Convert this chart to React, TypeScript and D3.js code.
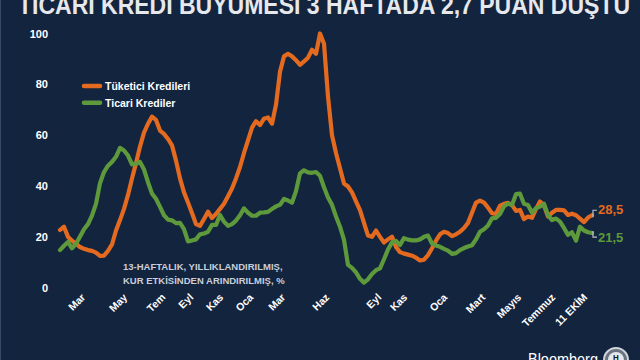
import React from "react";
import * as d3 from "d3";

const consumer = [
  22.7, 24, 20, 18.5, 17.3, 16, 15.3, 14.8, 14.5, 13.8, 12.5, 12.6, 14.5, 17, 22.5, 26.6, 31, 36.5, 43, 49,
  55.5, 61, 64.5, 67.3, 66, 61.8, 60.5, 58.5, 56, 50, 43, 37.5, 33.5, 29.4, 25, 24.3, 27, 29.9, 27.4, 29,
  31, 33, 36, 39, 43, 47.5, 53, 58, 63, 65.5, 64, 66.5, 67, 64.5, 72, 85, 91, 92, 91, 89.5,
  87.7, 89, 90.5, 93.6, 92, 100, 96, 75.2, 60, 53, 47, 41, 39.8, 37.5, 34, 30.5, 25.5, 20.5, 20, 22.5,
  20, 17.8, 19, 20.1, 16, 14, 13.4, 13, 12.6, 11.8, 10.7, 11, 12.8, 15.5, 18.5, 21, 22, 21.5, 20.3, 21,
  22, 23.5, 25.5, 29.5, 33.5, 34.3, 33.5, 31.5, 29.3, 29, 32.3, 33, 33.4, 32.5, 30.2, 30.6, 27, 28, 27.5, 31,
  33.9, 32.3, 28, 29.5, 30.6, 30.6, 30.4, 28.6, 29.1, 28.5, 27.2, 25.8, 27.6, 28.5,
];

const commercial = [
  14.8, 16.5, 18, 15.5, 17.3, 20.1, 23, 25, 28.4, 33, 41.1, 45.5, 48, 49.5, 51.5, 55, 54, 52, 48.5, 48.8,
  49.5, 46.5, 41.5, 37, 35, 31.8, 28.5, 26.8, 26.5, 25.4, 25.5, 23, 18.2, 18.6, 19, 21, 21.3, 22, 24.7, 24.7,
  28.6, 26, 24.3, 25, 26.4, 28.5, 31.2, 29.5, 28.3, 28.3, 29.5, 29.6, 29.8, 31, 32, 32.6, 34.9, 34.3, 33.4, 38,
  45, 46.2, 45.4, 45.2, 45.5, 44, 39.5, 35.5, 32.6, 28, 24, 18.8, 9, 7.8, 6, 3.5, 2, 3.3, 5.4, 6.9,
  7.6, 11.2, 15, 17.9, 18.4, 16.8, 19.5, 18.9, 18.6, 18.6, 19, 20, 20.5, 17.4, 16.6, 16.1, 15.3, 14.6, 13.3, 13.6,
  14.8, 15.6, 16.2, 16.7, 19, 22, 23, 24.5, 27.3, 27.5, 29, 32, 33.1, 32.5, 36.8, 37, 33, 32.5, 29.5, 31.3,
  31.9, 33, 28.5, 26.6, 27.2, 26, 23.5, 20.8, 21.8, 18.5, 24, 22.5, 21.8, 21.5,
];

const yTicks = [0, 20, 40, 60, 80, 100];
const xTickLabels = ["Mar", "May", "Tem", "Eyl", "Kas", "Oca", "Mar", "Haz", "Eyl", "Kas", "Oca", "Mart", "Mayıs", "Temmuz", "11 EKİM"];
const xTickIndex = [6.5, 17, 26.5, 33.5, 41, 48.5, 56.5, 67.5, 80.5, 87, 97, 106.5, 115.5, 124, 132];

const seriesNames = ["Tüketici Kredileri", "Ticari Krediler"];
const lastLabels = ["28,5", "21,5"];

const title = "TİCARİ KREDİ BÜYÜMESİ 3 HAFTADA 2,7 PUAN DÜŞTÜ";
const note = ["13-HAFTALIK, YILLIKLANDIRILMIŞ,", "KUR ETKİSİNDEN ARINDIRILMIŞ, %"];

const W = 640;
const H = 360;
const BG = "#13243f";
const ORANGE = "#e36a1f";
const GREEN = "#5e9a3b";

export default function App() {
  const n = consumer.length;
  const x = d3.scaleLinear().domain([0, n - 1]).range([60, 592]);
  const y = d3.scaleLinear().domain([0, 100]).range([287.7, 33.5]);
  const line = d3
    .line<number>()
    .x((_, i) => x(i))
    .y((d) => y(d))
    .curve(d3.curveLinear);

  const series = [
    { data: consumer, color: ORANGE },
    { data: commercial, color: GREEN },
  ];

  const font = "'Liberation Sans', Arial, sans-serif";
  const lastC = consumer[consumer.length - 1];
  const lastG = commercial[commercial.length - 1];

  return (
    <svg
      width={W}
      height={H}
      viewBox={`0 0 ${W} ${H}`}
      style={{ position: "absolute", left: 0, top: 0, display: "block" }}
      fontFamily={font}
    >
      <rect x={0} y={0} width={W} height={H} fill={BG} />
      <line x1={0.5} y1={0} x2={0.5} y2={H} stroke="#3a4a66" strokeWidth={1} />

      <text
        x={18}
        y={14}
        fontSize={25}
        fontWeight={900}
        fill="#e6e8ec"
        textLength={612}
        lengthAdjust="spacingAndGlyphs"
      >
        {title}
      </text>

      {yTicks.map((t) => (
        <text key={t} x={48} y={y(t) + 4} textAnchor="end" fontSize={11} fontWeight="bold" fill="#ffffff">
          {t}
        </text>
      ))}

      {xTickLabels.map((lab, i) => {
        const px = x(xTickIndex[i]);
        const py = 298;
        return (
          <text
            key={i}
            x={px}
            y={py}
            textAnchor="end"
            fontSize={10.5}
            fontWeight="bold"
            fill="#ffffff"
            transform={`rotate(-45, ${px}, ${py})`}
          >
            {lab}
          </text>
        );
      })}

      {series.map((s, i) => (
        <path
          key={i}
          d={line(s.data) || ""}
          fill="none"
          stroke={s.color}
          strokeWidth={4.2}
          strokeLinejoin="round"
          strokeLinecap="round"
        />
      ))}

      {seriesNames.map((nm, i) => (
        <g key={nm}>
          <line
            x1={84}
            x2={100}
            y1={86 + i * 16.7}
            y2={86 + i * 16.7}
            stroke={i === 0 ? ORANGE : GREEN}
            strokeWidth={4.5}
            strokeLinecap="round"
          />
          <text x={105} y={86 + i * 16.7 + 4} fontSize={10.5} fontWeight="bold" fill="#ffffff">
            {nm}
          </text>
        </g>
      ))}

      {note.map((t, i) => (
        <text key={i} x={123} y={270 + i * 14} fontSize={9.5} fontWeight="bold" fill="#c9ced8">
          {t}
        </text>
      ))}

      <path
        d={`M${x(n - 1) + 1},${y(lastC) + 2} V${y(lastC) - 5} H${x(n - 1) + 5}`}
        fill="none"
        stroke="#b8bec9"
        strokeWidth={1.2}
      />
      <text x={598} y={y(lastC) - 1} fontSize={13} fontWeight="bold" fill={ORANGE}>
        {lastLabels[0]}
      </text>
      <path
        d={`M${x(n - 1) + 1},${y(lastG) - 2} V${y(lastG) + 4} H${x(n - 1) + 5}`}
        fill="none"
        stroke="#b8bec9"
        strokeWidth={1.2}
      />
      <text x={598} y={y(lastG) + 9} fontSize={13} fontWeight="bold" fill={GREEN}>
        {lastLabels[1]}
      </text>

      <text x={528} y={365} fontSize={17} fill="#ffffff" textLength={70} lengthAdjust="spacingAndGlyphs">
        Bloomberg
      </text>
      <circle cx={616} cy={360} r={12} fill="#6b7280" stroke="#d1d5db" strokeWidth={2} />
      <circle cx={616} cy={360} r={8} fill="#e5e7eb" />
      <text x={616} y={360} fontSize={8} fontWeight="bold" fill="#111" textAnchor="middle">
        H
      </text>
    </svg>
  );
}
